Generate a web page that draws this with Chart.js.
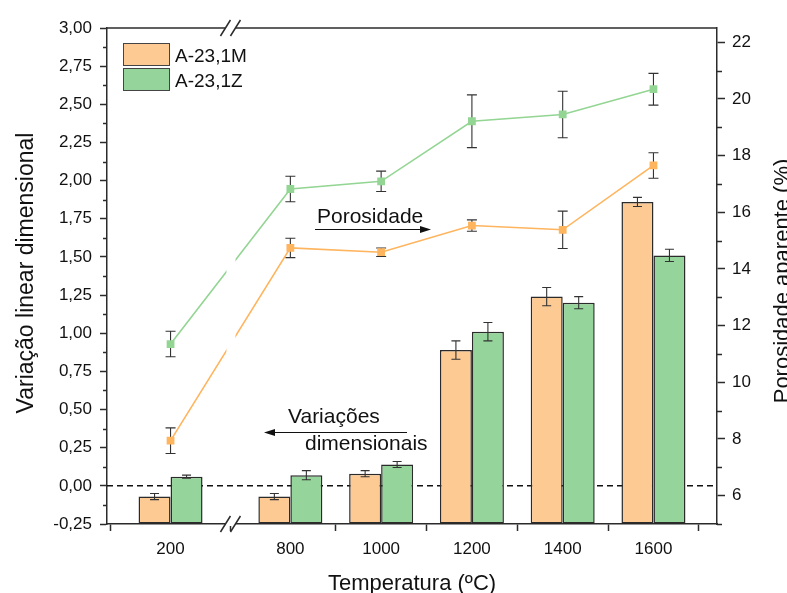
<!DOCTYPE html>
<html>
<head>
<meta charset="utf-8">
<script src="https://cdn.jsdelivr.net/npm/chart.js@4.4.0/dist/chart.umd.min.js"></script>
<style>
  html, body { margin: 0; padding: 0; background: #fff; }
  #wrap { width: 787px; height: 593px; }
</style>
</head>
<body>
<div id="wrap"><canvas id="grafico"></canvas></div>
<script>
// ======================
// Variação dimensional (barras) e porosidade aparente (linhas) x temperatura
// ======================

// temperaturas de queima (ºC)
const temperaturas = [200, 800, 1000, 1200, 1400, 1600];

// variação linear dimensional (%) e desvios
const variacao1M = [-0.07, -0.07, 0.08, 0.89, 1.24, 1.86];
const erroVar1M  = [0.02, 0.02, 0.02, 0.06, 0.06, 0.03];
const variacao1Z = [0.06, 0.07, 0.14, 1.01, 1.20, 1.51];
const erroVar1Z  = [0.01, 0.03, 0.02, 0.06, 0.04, 0.04];

// porosidade aparente (%) e desvios
const poros1M    = [7.94, 14.74, 14.59, 15.53, 15.38, 17.65];
const erroPor1M  = [0.45, 0.34, 0.15, 0.20, 0.66, 0.45];
const poros1Z    = [11.35, 16.82, 17.09, 19.21, 19.45, 20.34];
const erroPor1Z  = [0.45, 0.45, 0.36, 0.93, 0.82, 0.56];

// marcas dos eixos
const ticksVar = [-0.25, 0, 0.25, 0.5, 0.75, 1, 1.25, 1.5, 1.75, 2, 2.25, 2.5, 2.75, 3];
const ticksPor = [6, 8, 10, 12, 14, 16, 18, 20, 22];

// quebra do eixo x: trecho suprimido entre 200 e 800 ºC
const inicioCorte = 800;
const corteEixo = 336;
const posX = t => (t < inicioCorte ? t + corteEixo : t);
const xQuebra = (posX(temperaturas[0]) + posX(temperaturas[1])) / 2;

const cores = {
  barra1M: "#FDCA94",
  barra1Z: "#95D49A",
  linha1M: "#FFB45E",
  linha1Z: "#93D593",
  borda: "#2b2b2b"
};
const fonte = "'Liberation Sans', Arial, sans-serif";

const pontos = vals => vals.map((v, i) => ({ x: posX(temperaturas[i]), y: v }));

const data = {
  datasets: [
    {
      type: "bar", label: "A-23,1M", data: pontos(variacao1M), erros: erroVar1M,
      yAxisID: "y", base: ticksVar[0], order: 2,
      backgroundColor: cores.barra1M, borderColor: cores.borda, borderWidth: 1.5, borderSkipped: false
    },
    {
      type: "bar", label: "A-23,1Z", data: pontos(variacao1Z), erros: erroVar1Z,
      yAxisID: "y", base: ticksVar[0], order: 2,
      backgroundColor: cores.barra1Z, borderColor: cores.borda, borderWidth: 1.5, borderSkipped: false
    },
    {
      type: "line", label: "Porosidade 1M", data: pontos(poros1M), erros: erroPor1M,
      yAxisID: "y2", order: 1,
      borderColor: cores.linha1M, backgroundColor: cores.linha1M, borderWidth: 1.6,
      pointStyle: "rect", pointRadius: 5.5, pointBorderWidth: 0,
      pointBackgroundColor: cores.linha1M
    },
    {
      type: "line", label: "Porosidade 1Z", data: pontos(poros1Z), erros: erroPor1Z,
      yAxisID: "y2", order: 1,
      borderColor: cores.linha1Z, backgroundColor: cores.linha1Z, borderWidth: 1.6,
      pointStyle: "rect", pointRadius: 5.5, pointBorderWidth: 0,
      pointBackgroundColor: cores.linha1Z
    }
  ]
};

// barras de erro
function desenhaErros(chart, idx) {
  const ds = chart.data.datasets[idx];
  const meta = chart.getDatasetMeta(idx);
  const ey = chart.scales[ds.yAxisID];
  const ctx = chart.ctx;
  const capa = ds.type === "bar" ? 4.5 : 5;
  ctx.save();
  ctx.strokeStyle = "#333";
  ctx.lineWidth = 1.1;
  meta.data.forEach((el, j) => {
    const v = ds.data[j].y, e = ds.erros[j];
    const y1 = ey.getPixelForValue(v + e), y2 = ey.getPixelForValue(v - e);
    ctx.beginPath();
    ctx.moveTo(el.x, y1); ctx.lineTo(el.x, y2);
    ctx.moveTo(el.x - capa, y1); ctx.lineTo(el.x + capa, y1);
    ctx.moveTo(el.x - capa, y2); ctx.lineTo(el.x + capa, y2);
    ctx.stroke();
  });
  ctx.restore();
}

function seta(ctx, x1, x2, y) {
  const dir = Math.sign(x2 - x1);
  ctx.beginPath();
  ctx.moveTo(x1, y); ctx.lineTo(x2 - dir * 6, y);
  ctx.stroke();
  ctx.beginPath();
  ctx.moveTo(x2, y);
  ctx.lineTo(x2 - dir * 11, y - 3.5);
  ctx.lineTo(x2 - dir * 11, y + 3.5);
  ctx.closePath();
  ctx.fill();
}

function tracosMenores(chart, id, lado, comp) {
  const s = chart.scales[id];
  const lista = id === "y" ? ticksVar : ticksPor;
  const passo = lista[1] - lista[0];
  const ctx = chart.ctx;
  const x0 = lado < 0 ? chart.chartArea.left : chart.chartArea.right;
  ctx.save();
  ctx.strokeStyle = cores.borda;
  ctx.lineWidth = 1.5;
  const menores = lista.map(v => v - passo / 2).concat([lista[lista.length - 1] + passo / 2]);
  menores.forEach(v => {
    if (v < s.min || v > s.max) return;
    const y = Math.round(s.getPixelForValue(v)) + 0.5;
    ctx.beginPath();
    ctx.moveTo(x0, y); ctx.lineTo(x0 + lado * comp, y);
    ctx.stroke();
  });
  ctx.restore();
}

const extras = {
  id: "extras",
  beforeDatasetsDraw(chart) {
    // linha tracejada em zero
    const { ctx, chartArea: a } = chart;
    const y0 = chart.scales.y.getPixelForValue(0);
    ctx.save();
    ctx.strokeStyle = "#111";
    ctx.lineWidth = 1.5;
    ctx.setLineDash([6, 4]);
    ctx.beginPath();
    ctx.moveTo(a.left, y0); ctx.lineTo(a.right, y0);
    ctx.stroke();
    ctx.restore();
  },
  beforeDatasetDraw(chart, args) {
    const ds = chart.data.datasets[args.index];
    if (ds.type !== "line") return;
    desenhaErros(chart, args.index);
    // interrompe as linhas na quebra do eixo
    const { ctx } = chart;
    const xq = chart.scales.x.getPixelForValue(xQuebra);
    ctx.save();
    ctx.beginPath();
    ctx.rect(0, 0, xq - 4, chart.height);
    ctx.rect(xq + 5, 0, chart.width - xq - 5, chart.height);
    ctx.clip();
  },
  afterDatasetDraw(chart, args) {
    const ds = chart.data.datasets[args.index];
    if (ds.type === "line") chart.ctx.restore();
    else desenhaErros(chart, args.index);
  },
  afterDraw(chart) {
    const { ctx, chartArea: a } = chart;
    const xq = chart.scales.x.getPixelForValue(xQuebra);

    // moldura superior
    ctx.save();
    ctx.strokeStyle = cores.borda;
    ctx.lineWidth = 1.5;
    ctx.beginPath();
    ctx.moveTo(a.left, a.top); ctx.lineTo(a.right, a.top);
    ctx.stroke();

    // quebra do eixo (topo e base)
    [a.top, a.bottom].forEach(y => {
      ctx.fillStyle = "#fff";
      ctx.fillRect(xq - 5, y - 2, 10, 4);
      ctx.beginPath();
      [-5, 5].forEach(dx => {
        ctx.moveTo(xq + dx - 5, y + 8);
        ctx.lineTo(xq + dx + 5, y - 8);
      });
      ctx.stroke();
    });
    ctx.restore();

    tracosMenores(chart, "y", -1, 4);
    tracosMenores(chart, "y2", 1, 5);

    // legenda
    ctx.save();
    ctx.font = "19px " + fonte;
    ctx.textBaseline = "alphabetic";
    [0, 1].forEach(i => {
      const ds = chart.data.datasets[i];
      const y = 43.5 + i * 25;
      ctx.fillStyle = ds.backgroundColor;
      ctx.fillRect(123.5, y, 46, 22);
      ctx.strokeStyle = "#444";
      ctx.lineWidth = 1;
      ctx.strokeRect(123.5, y, 46, 22);
      ctx.fillStyle = "#111";
      ctx.fillText(ds.label, 175, y + 18.5);
    });

    // anotações
    ctx.font = "21px " + fonte;
    ctx.fillStyle = "#111";
    ctx.strokeStyle = "#111";
    ctx.lineWidth = 1.2;
    ctx.fillText("Porosidade", 317, 223);
    seta(ctx, 315, 431, 229.5);
    ctx.fillText("Variações", 288, 423);
    ctx.fillText("dimensionais", 305, 450);
    seta(ctx, 407, 264, 432.5);

    // títulos dos eixos
    ctx.font = "22px " + fonte;
    ctx.textAlign = "center";
    ctx.fillText("Temperatura (ºC)", 412, 590);
    ctx.save();
    ctx.font = "23px " + fonte;
    ctx.translate(33, 273);
    ctx.rotate(-Math.PI / 2);
    ctx.fillText("Variação linear dimensional", 0, 0);
    ctx.restore();
    ctx.save();
    ctx.translate(789, 281);
    ctx.rotate(-Math.PI / 2);
    ctx.fillText("Porosidade aparente (%)", 0, 0);
    ctx.restore();
    ctx.restore();
  }
};

const eixoComum = {
  grid: { drawOnChartArea: false, drawTicks: true, color: cores.borda, tickColor: cores.borda, tickWidth: 1.5 },
  border: { display: true, color: cores.borda, width: 1.5 }
};

const options = {
  responsive: true,
  maintainAspectRatio: false,
  animation: false,
  layout: { padding: { top: 28, left: 0, right: 0, bottom: 0 } },
  plugins: { legend: { display: false }, tooltip: { enabled: false } },
  scales: {
    x: {
      type: "linear",
      min: posX(temperaturas[0]) - 140,
      max: temperaturas[temperaturas.length - 1] + 140,
      offset: false,
      grid: { ...eixoComum.grid, tickLength: 7 },
      border: eixoComum.border,
      afterBuildTicks: s => { s.ticks = temperaturas.map(t => ({ value: posX(t) })); },
      afterFit: s => { s.height = 69; },
      ticks: {
        autoSkip: false, maxRotation: 0, padding: 8,
        color: "#111", font: { family: fonte, size: 17 },
        callback: (v, i) => String(temperaturas[i])
      }
    },
    y: {
      position: "left",
      min: ticksVar[0], max: ticksVar[ticksVar.length - 1],
      grid: { ...eixoComum.grid, tickLength: 7 },
      border: eixoComum.border,
      afterBuildTicks: s => { s.ticks = ticksVar.map(v => ({ value: v })); },
      afterFit: s => { s.width = 107; },
      ticks: {
        padding: 8, color: "#111", font: { family: fonte, size: 17 },
        callback: v => v.toFixed(2).replace(".", ",")
      }
    },
    y2: {
      position: "right",
      min: 5, max: 22.5,
      grid: { ...eixoComum.grid, tickLength: 8 },
      border: eixoComum.border,
      afterBuildTicks: s => { s.ticks = ticksPor.map(v => ({ value: v })); },
      afterFit: s => { s.width = 70; },
      ticks: {
        padding: 7, color: "#111", font: { family: fonte, size: 17 },
        callback: v => String(v)
      }
    }
  },
  datasets: { bar: { categoryPercentage: 0.705, barPercentage: 1, grouped: true } }
};

const ctx = document.getElementById("grafico").getContext("2d");
new Chart(ctx, { data: data, options: options, plugins: [extras] });
</script>
</body>
</html>
